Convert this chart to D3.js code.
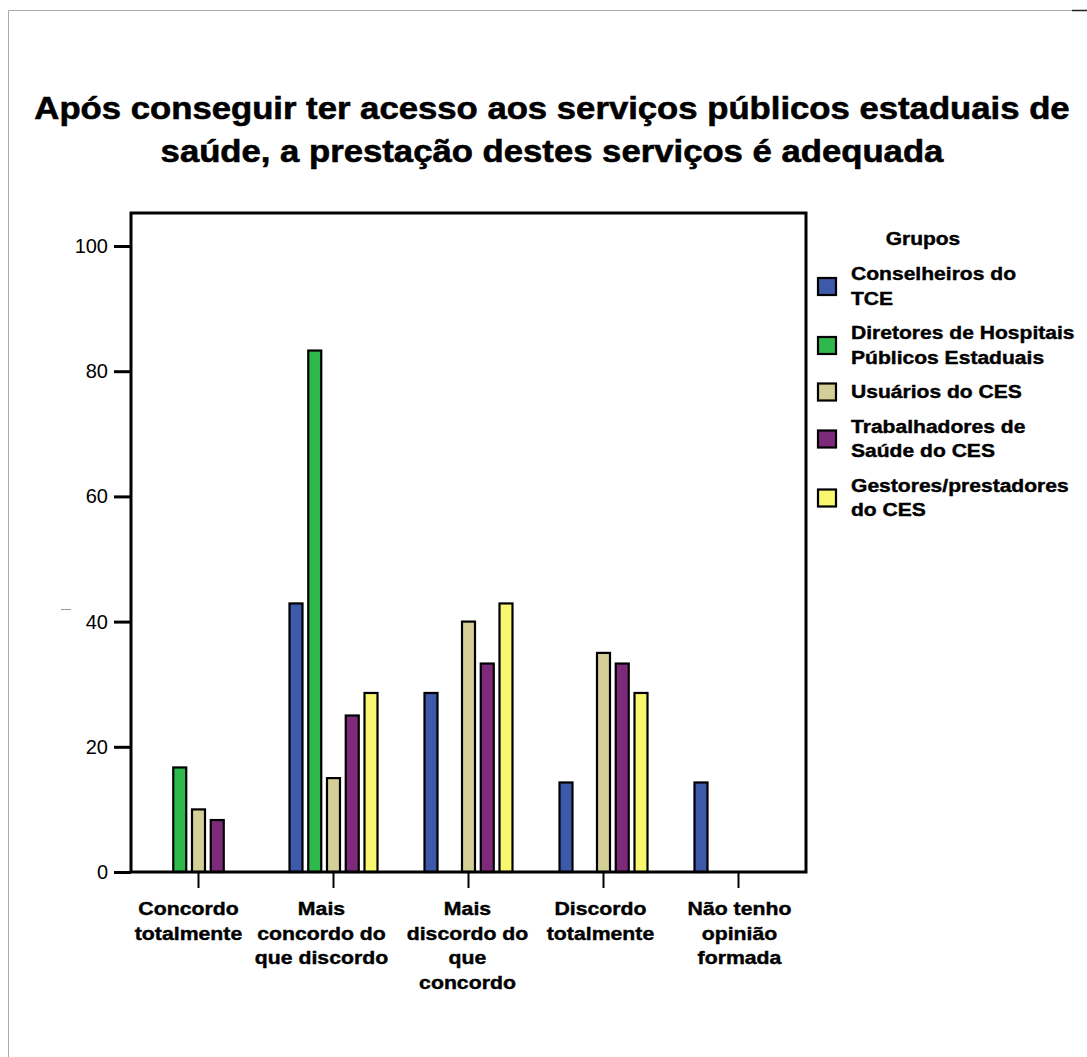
<!DOCTYPE html>
<html>
<head>
<meta charset="utf-8">
<script src="https://cdn.jsdelivr.net/npm/d3@7"></script>
<style>
  html, body { margin: 0; padding: 0; background: #fff; }
  svg { display: block; font-family: "Liberation Sans", Arial, sans-serif; }
</style>
</head>
<body>
<svg id="chart" width="1087" height="1057"></svg>
<script>
// Response categories (x axis)
const categories = [
  ["Concordo", "totalmente"],
  ["Mais", "concordo do", "que discordo"],
  ["Mais", "discordo do", "que", "concordo"],
  ["Discordo", "totalmente"],
  ["Não tenho", "opinião", "formada"]
];

// Groups (legend)
const groups = [
  ["Conselheiros do", "TCE"],
  ["Diretores de Hospitais", "Públicos Estaduais"],
  ["Usuários do CES"],
  ["Trabalhadores de", "Saúde do CES"],
  ["Gestores/prestadores", "do CES"]
];
const groupColors = ["#3d59a9", "#2fb84b", "#d4cf97", "#7d2a7b", "#f9f76f"];

// Percentages per group, one value per category
const conselheirosTCE   = [0, 42.9, 28.6, 14.3, 14.3];
const diretoresHosp     = [16.7, 83.3, 0, 0, 0];
const usuariosCES       = [10, 15, 40, 35, 0];
const trabalhadoresCES  = [8.3, 25, 33.3, 33.3, 0];
const gestoresCES       = [0, 28.6, 42.9, 28.6, 0];
const seriesValues = [conselheirosTCE, diretoresHosp, usuariosCES, trabalhadoresCES, gestoresCES];

const yTicks = [0, 20, 40, 60, 80, 100];

const titleLines = [
  "Após conseguir ter acesso aos serviços públicos estaduais de",
  "saúde, a prestação destes serviços é adequada"
];

const FONT = "Liberation Sans, Arial, sans-serif";
// horizontal nudges of the wrapped category labels
const labelNudge = [-10, -12, -1, -3, 1];

const svg = d3.select("#chart");

// widen glyph runs horizontally by factor k
function widen(sel, k) {
  sel.each(function () {
    const w = this.getComputedTextLength();
    d3.select(this).attr("textLength", w * k).attr("lengthAdjust", "spacingAndGlyphs");
  });
}

// heavier bold strokes
function heavy(sel, w) {
  sel.attr("stroke", "#000").attr("stroke-width", w).attr("paint-order", "stroke");
}

// page frame lines
svg.append("line").attr("x1", 8.5).attr("x2", 1087).attr("y1", 10.5).attr("y2", 10.5)
  .attr("stroke", "#aaa").attr("stroke-width", 1);
svg.append("line").attr("x1", 8.5).attr("x2", 8.5).attr("y1", 10.5).attr("y2", 1057)
  .attr("stroke", "#aaa").attr("stroke-width", 1);
svg.append("line").attr("x1", 1072).attr("x2", 1087).attr("y1", 10.5).attr("y2", 10.5)
  .attr("stroke", "#222").attr("stroke-width", 1.5);

// title
const titleText = svg.append("text")
  .attr("text-anchor", "middle")
  .attr("font-size", 32).attr("font-weight", "bold");
heavy(titleText, 0.6);
const title = titleText.selectAll("tspan").data(titleLines).join("tspan")
  .attr("x", 552).attr("y", (d, i) => 119 + i * 43)
  .text(d => d);
widen(title, 1.084);

const plot = { left: 131, right: 806, top: 213, bottom: 872 };

const x = d3.scaleBand()
  .domain(d3.range(categories.length))
  .range([plot.left, plot.right])
  .padding(0);

const y = d3.scaleLinear().domain([0, 100]).range([plot.bottom, 246]);

const inner = d3.scaleBand()
  .domain(d3.range(groups.length))
  .range([-45, 45])
  .paddingInner(0.2);

// bars
const barLayer = svg.append("g");
seriesValues.forEach((vals, gi) => {
  barLayer.selectAll(null)
    .data(vals.map((v, ci) => ({ v, ci })))
    .join("rect")
    .attr("x", d => x(d.ci) + x.bandwidth() / 2 + inner(gi) + 1)
    .attr("y", d => y(d.v))
    .attr("width", inner.bandwidth() - 2)
    .attr("height", d => y(0) - y(d.v))
    .attr("fill", groupColors[gi])
    .attr("stroke", "#000")
    .attr("stroke-width", 2.2);
});

// plot frame
svg.append("rect")
  .attr("x", plot.left).attr("y", plot.top)
  .attr("width", plot.right - plot.left).attr("height", plot.bottom - plot.top)
  .attr("fill", "none").attr("stroke", "#000").attr("stroke-width", 3);

// y axis
const yAxis = svg.append("g")
  .attr("transform", `translate(${plot.left},0)`)
  .call(d3.axisLeft(y).tickValues(yTicks).tickSize(17).tickPadding(6));
yAxis.select(".domain").remove();
yAxis.selectAll(".tick line").attr("stroke", "#000").attr("stroke-width", 3);
yAxis.selectAll(".tick text")
  .attr("font-size", 20).attr("fill", "#000").attr("font-family", FONT);

// x axis ticks and labels
const xAxis = svg.append("g")
  .attr("transform", `translate(0,${plot.bottom})`)
  .call(d3.axisBottom(x).tickSize(16).tickFormat(() => ""));
xAxis.select(".domain").remove();
xAxis.selectAll(".tick line").attr("stroke", "#000").attr("stroke-width", 2);

const xl = svg.append("g");
categories.forEach((lines, ci) => {
  const txt = xl.append("text")
    .attr("text-anchor", "middle")
    .attr("font-size", 18).attr("font-weight", "bold");
  heavy(txt, 0.4);
  const t = txt.selectAll("tspan").data(lines).join("tspan")
    .attr("x", x(ci) + x.bandwidth() / 2 + labelNudge[ci])
    .attr("y", (d, i) => 915 + i * 24.5)
    .text(d => d);
  widen(t, 1.18);
});

// faint axis title mark
svg.append("line")
  .attr("x1", 61).attr("x2", 71).attr("y1", 609.5).attr("y2", 609.5)
  .attr("stroke", "#999").attr("stroke-width", 1);

// legend
const legend = svg.append("g");
const lgTitle = legend.append("text")
  .attr("x", 923).attr("y", 245)
  .attr("text-anchor", "middle")
  .attr("font-size", 18).attr("font-weight", "bold")
  .text("Grupos");
heavy(lgTitle, 0.4);
widen(lgTitle, 1.165);

const lineGap = 24.5;
let baseY = 280;
groups.forEach((lines, gi) => {
  const n = lines.length;
  const centerY = baseY + (n - 1) * 12.5 - 6;
  legend.append("rect")
    .attr("x", 818).attr("y", centerY - 8.5)
    .attr("width", 18).attr("height", 17)
    .attr("fill", groupColors[gi])
    .attr("stroke", "#000").attr("stroke-width", 2.2);
  const txt = legend.append("text")
    .attr("font-size", 18).attr("font-weight", "bold");
  heavy(txt, 0.4);
  const t = txt.selectAll("tspan").data(lines).join("tspan")
    .attr("x", 851)
    .attr("y", (d, i) => baseY + i * lineGap)
    .text(d => d);
  widen(t, 1.17);
  baseY += n * lineGap + 10;
});
</script>
</body>
</html>
